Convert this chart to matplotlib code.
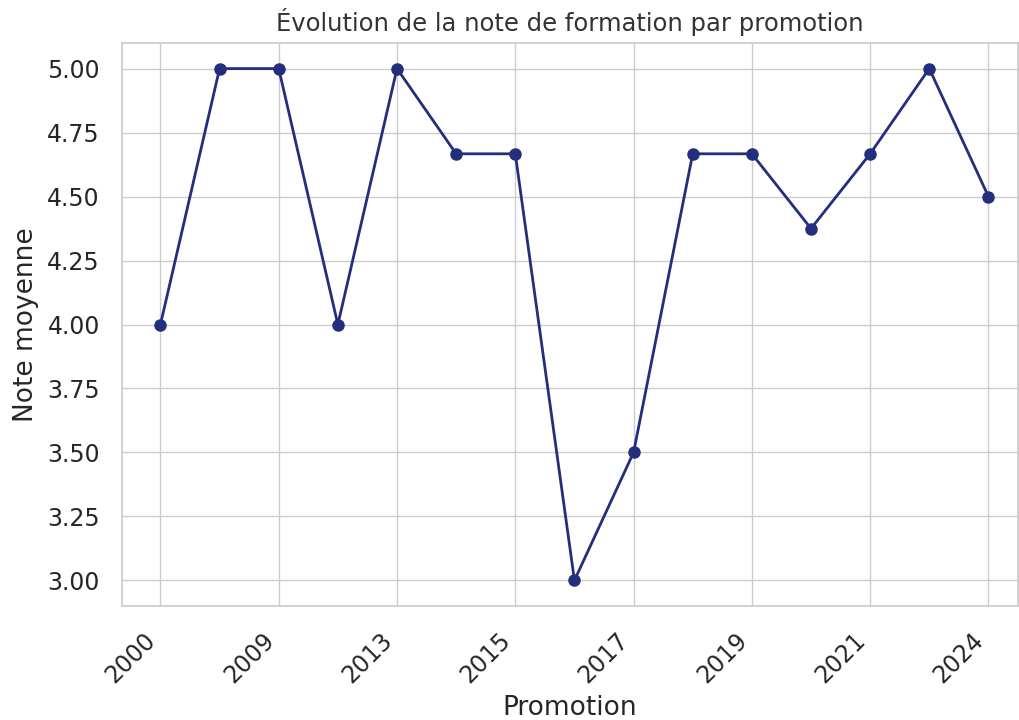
import matplotlib
matplotlib.use("Agg")
import matplotlib.pyplot as plt
import seaborn as sns

promotions = ["2000", "2008", "2009", "2012", "2013", "2014", "2015", "2016",
              "2017", "2018", "2019", "2020", "2021", "2023", "2024"]
notes = [4.0, 5.0, 5.0, 4.0, 5.0, 4.667, 4.667, 3.0, 3.5, 4.667, 4.667, 4.375, 4.667, 5.0, 4.5]

sns.set_theme(style="whitegrid")
plt.rcParams['font.family'] = ['DejaVu Sans']

fig = plt.figure(figsize=(10.19, 7.2), dpi=100)
ax = fig.add_axes([122/1019, 1 - 606/720, (1018-122)/1019, (606-43)/720])

x = list(range(len(promotions)))
ax.plot(x, notes, marker='o', color='#232e7c', linewidth=2.0, markersize=8)

ax.set_xticks(x[::2])
ax.set_xticklabels(promotions[::2], rotation=45, ha='right', fontsize=17)
ax.tick_params(axis='y', labelsize=17, pad=10)
ax.tick_params(axis='x', pad=10)
ax.set_xlim(-0.65, 14.5)
ax.set_ylim(2.9, 5.1)
yt = [3.0, 3.25, 3.5, 3.75, 4.0, 4.25, 4.5, 4.75, 5.0]
ax.set_yticks(yt)
ax.set_yticklabels([f"{v:.2f}" for v in yt])
ax.set_xlabel("Promotion", fontsize=19, labelpad=5)
ax.set_ylabel("Note moyenne", fontsize=19, labelpad=6)
ax.set_title("Évolution de la note de formation par promotion", fontsize=17.5, color='#333333', pad=9)

fig.savefig("out.png", dpi=100)
